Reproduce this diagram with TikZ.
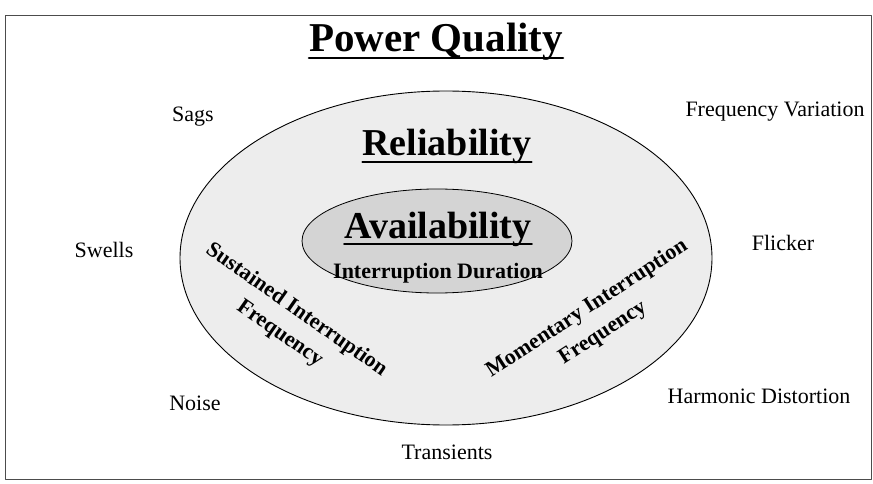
\documentclass[tikz,border=0pt]{standalone}
\usepackage{fontspec}
\setmainfont{Liberation Serif}
\begin{document}
\begin{tikzpicture}[x=1pt, y=-1pt, line join = round, line cap = round,
	heading/.style={font=\bfseries\fontsize{38}{40}\selectfont, inner sep=0pt, anchor=base},
	term/.style={font=\fontsize{22}{24}\selectfont, inner sep=0pt},
	arc label/.style={font=\bfseries\fontsize{22}{29}\selectfont, align=center, inner sep=0pt}]
		\useasboundingbox (0,0) rectangle (873,484);
		% frame
		\draw[line width=0.8pt, black!70] (5,15) rectangle (871,479);
		
		% ellipses
		\coordinate (O) at (446,258);
		\coordinate (I) at (437,241);
		\draw[fill=black!7, line width=0.9pt] (O) ellipse [x radius=266pt, y radius=167pt];
		\draw[fill=black!17, line width=0.8pt] (I) ellipse [x radius=135pt, y radius=52pt];
		
		% headings
		\node[heading, font=\bfseries\fontsize{41}{42}\selectfont] (pq) at (436,52) {Power Quality};
		\node[heading] (rel) at (447,156) {Reliability};
		\node[heading] (avail) at (438,238) {Availability};
		\foreach \n in {pq,rel,avail}
		\draw[line width=2.2pt] ([yshift=-6pt]\n.base west) -- ([yshift=-6pt]\n.base east);
		\node[arc label, anchor=base] (dur) at (438,278) {Interruption Duration};
		
		% disturbances around the ellipse
		\node[term] (sags) at (193,117) {Sags};
		\node[term] (swells) at (104,250) {Swells};
		\node[term] (noise) at (195,403) {Noise};
		\node[term] (trans) at (447,452) {Transients};
		\node[term] (freq) at (775,112) {Frequency Variation};
		\node[term] (flick) at (783,243) {Flicker};
		\node[term] (harm) at (759,396) {Harmonic Distortion};
		
		% interruption frequencies
		\node[arc label, rotate=-35] (sust) at (288,322) {Sustained Interruption\\Frequency};
		\node[arc label, rotate=33] (mom) at (595,321) {Momentary Interruption\\Frequency};
		
		\end{tikzpicture}
\end{document}
